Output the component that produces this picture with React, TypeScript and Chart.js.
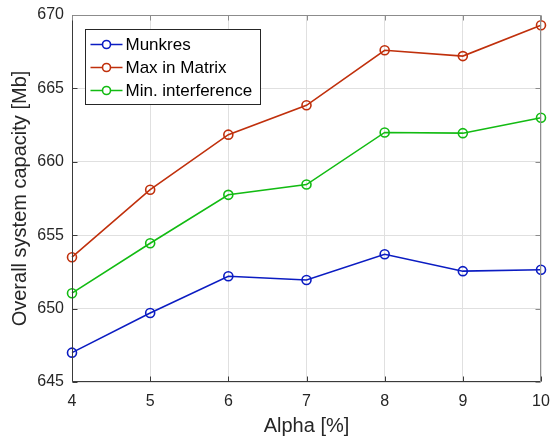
import React, { useEffect, useRef } from "react";
import { Chart, registerables } from "chart.js";

Chart.register(...registerables);

// Alpha values [%] along the x axis
const alphaValues = [4, 5, 6, 7, 8, 9, 10];

// Overall system capacity [Mb] per method
const munkres = [647.0, 649.7, 652.2, 651.95, 653.7, 652.55, 652.65];
const maxInMatrix = [653.5, 658.1, 661.85, 663.85, 667.6, 667.2, 669.3];
const minInterference = [651.05, 654.45, 657.75, 658.45, 662.0, 661.95, 663.0];

const seriesNames = ["Munkres", "Max in Matrix", "Min. interference"];
const seriesColors = ["#0b1cc2", "#c0300c", "#12bb12"];

const yMin = 645;
const yMax = 670;
const yStep = 5;

const FONT = "'Liberation Sans', Arial, Helvetica, sans-serif";
const AXIS_COLOR = "#262626";

const toPoints = (ys: number[]) => alphaValues.map((x, i) => ({ x, y: ys[i] }));

// Full box around the plot area with inward tick marks on all four sides
const framePlugin = {
  id: "frame",
  afterDatasetsDraw(chart: any) {
    const { ctx, chartArea: a, scales } = chart;
    const L = Math.round(a.left) + 0.5;
    const R = Math.round(a.right) - 0.5;
    const T = Math.round(a.top) + 0.5;
    const B = Math.round(a.bottom) - 0.5;
    const tick = 5;
    ctx.save();
    ctx.lineWidth = 1;
    ctx.strokeStyle = "#3a3a3a";
    ctx.beginPath();
    // left and bottom axes
    ctx.moveTo(L, T);
    ctx.lineTo(L, B);
    ctx.lineTo(R, B);
    scales.y.ticks.forEach((t: any) => {
      const y = Math.round(scales.y.getPixelForValue(t.value)) + 0.5;
      ctx.moveTo(L, y);
      ctx.lineTo(L + tick, y);
    });
    scales.x.ticks.forEach((t: any) => {
      const x = Math.round(scales.x.getPixelForValue(t.value)) + 0.5;
      ctx.moveTo(x, B);
      ctx.lineTo(x, B - tick);
    });
    ctx.stroke();
    ctx.strokeStyle = "#8c8c8c";
    ctx.beginPath();
    // top and right box lines
    ctx.moveTo(L, T);
    ctx.lineTo(R, T);
    ctx.lineTo(R, B);
    scales.y.ticks.forEach((t: any) => {
      const y = Math.round(scales.y.getPixelForValue(t.value)) + 0.5;
      ctx.moveTo(R, y);
      ctx.lineTo(R - tick, y);
    });
    scales.x.ticks.forEach((t: any) => {
      const x = Math.round(scales.x.getPixelForValue(t.value)) + 0.5;
      ctx.moveTo(x, T);
      ctx.lineTo(x, T + tick);
    });
    ctx.stroke();
    ctx.restore();
  },
};

// Legend box drawn inside the upper-left corner of the plot area
const insetLegendPlugin = {
  id: "insetLegend",
  afterDraw(chart: any) {
    const { ctx, chartArea: a } = chart;
    const x0 = Math.round(a.left) + 13.5;
    const y0 = Math.round(a.top) + 14.5;
    const w = 175;
    const rowH = 23;
    const h = 75;
    ctx.save();
    ctx.fillStyle = "#ffffff";
    ctx.fillRect(x0, y0, w, h);
    ctx.strokeStyle = "#262626";
    ctx.lineWidth = 1;
    ctx.strokeRect(x0, y0, w, h);
    ctx.font = `17px ${FONT}`;
    ctx.textBaseline = "middle";
    ctx.textAlign = "left";
    chart.data.datasets.forEach((ds: any, i: number) => {
      const cy = y0 + 15 + i * rowH;
      ctx.strokeStyle = ds.borderColor;
      ctx.lineWidth = 1.6;
      ctx.beginPath();
      ctx.moveTo(x0 + 5, cy);
      ctx.lineTo(x0 + 37, cy);
      ctx.stroke();
      ctx.beginPath();
      ctx.arc(x0 + 21, cy, 4, 0, Math.PI * 2);
      ctx.fillStyle = "#ffffff";
      ctx.fill();
      ctx.stroke();
      ctx.fillStyle = "#000000";
      ctx.fillText(ds.label, x0 + 40, cy + 1);
    });
    ctx.restore();
  },
};

export default function App() {
  const canvasRef = useRef<HTMLCanvasElement | null>(null);

  useEffect(() => {
    if (!canvasRef.current) return;
    const series = [munkres, maxInMatrix, minInterference];
    const chart = new Chart(canvasRef.current, {
      type: "line",
      data: {
        datasets: series.map((ys, i) => ({
          label: seriesNames[i],
          data: toPoints(ys),
          borderColor: seriesColors[i],
          backgroundColor: "rgba(0,0,0,0)",
          borderWidth: 1.6,
          pointRadius: 4.5,
          pointBorderWidth: 1.6,
          pointBackgroundColor: "rgba(0,0,0,0)",
          pointBorderColor: seriesColors[i],
          tension: 0,
          clip: false as any,
        })),
      },
      options: {
        responsive: false,
        animation: false,
        layout: { padding: { top: 15, right: 9, left: 0, bottom: 0 } },
        plugins: {
          legend: { display: false },
          tooltip: { enabled: false },
        },
        scales: {
          x: {
            type: "linear",
            min: alphaValues[0],
            max: alphaValues[alphaValues.length - 1],
            border: { display: false },
            grid: { color: "#e0e0e0", drawTicks: false, lineWidth: 1 },
            ticks: {
              stepSize: 1,
              padding: 10,
              color: AXIS_COLOR,
              font: { family: FONT, size: 16 },
              maxRotation: 0,
            },
            title: {
              display: true,
              text: "Alpha [%]",
              color: AXIS_COLOR,
              font: { family: FONT, size: 20 },
              padding: { top: 0, bottom: 3 },
            },
            afterFit: (scale: any) => {
              scale.height = 59;
              scale.paddingLeft = 0;
              scale.paddingRight = 0;
            },
          },
          y: {
            type: "linear",
            min: yMin,
            max: yMax,
            border: { display: false },
            grid: { color: "#e0e0e0", drawTicks: false, lineWidth: 1 },
            ticks: {
              stepSize: yStep,
              padding: 8,
              color: AXIS_COLOR,
              font: { family: FONT, size: 16 },
            },
            title: {
              display: true,
              text: "Overall system capacity [Mb]",
              color: AXIS_COLOR,
              font: { family: FONT, size: 20 },
              padding: { top: 8, bottom: 0 },
            },
            afterFit: (scale: any) => {
              scale.width = 72;
              scale.paddingTop = 0;
              scale.paddingBottom = 0;
            },
          },
        },
      },
      plugins: [framePlugin, insetLegendPlugin],
    });
    return () => chart.destroy();
  }, []);

  return (
    <div style={{ position: "absolute", left: 0, top: 0, width: 550, height: 441, background: "#ffffff" }}>
      <canvas ref={canvasRef} width={550} height={441} />
    </div>
  );
}
